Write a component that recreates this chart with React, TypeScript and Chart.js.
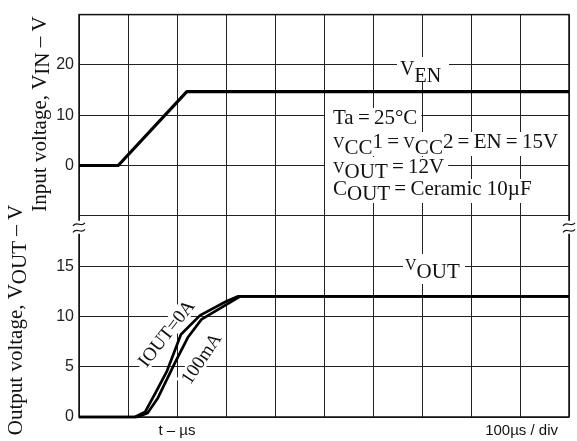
import { useEffect, useRef } from "react";
import { Chart, registerables } from "chart.js";

Chart.register(...registerables);

// ---- data (time in µs, voltage in V) ----
const venTime = [0, 80, 220, 1000];
const venVolt = [0, 0, 14.7, 14.7];

const vout0ATime = [0, 114, 135, 155, 179, 208, 247, 301, 325, 1000];
const vout0AVolt = [0, 0, 0.5, 2.3, 4.5, 8.2, 10.1, 11.5, 12, 12];

const vout100Time = [0, 119, 140, 161, 196, 222, 250, 305, 329, 1000];
const vout100Volt = [0, 0, 0.4, 1.9, 5.4, 7.9, 9.7, 11.3, 12, 12];

// axis settings
const outTicks = [0, 5, 10, 15];
const inTicks = [0, 10, 20];
const OUT_MIN = 0;
const OUT_MAX = 40;
const IN_MIN = -50;
const IN_MAX = 30;
const T_MAX = 1000;
const T_STEP = 100;

const SERIF = '"Liberation Serif", "Times New Roman", serif';
const SANS = '"Liberation Sans", Arial, sans-serif';
const EQ = "\u2009=\u2009";

type Seg = { t: string; s: number; dy?: number };

function measure(ctx: CanvasRenderingContext2D, segs: Seg[], family: string) {
  let w = 0;
  for (const g of segs) {
    ctx.font = `${g.s}px ${family}`;
    w += ctx.measureText(g.t).width;
  }
  return w;
}

function drawRich(
  ctx: CanvasRenderingContext2D,
  x: number,
  y: number,
  segs: Seg[],
  family: string,
  align: "left" | "center" | "right" = "left"
) {
  const w = measure(ctx, segs, family);
  let cx = align === "left" ? x : align === "center" ? x - w / 2 : x - w;
  ctx.textAlign = "left";
  ctx.textBaseline = "alphabetic";
  for (const g of segs) {
    ctx.font = `${g.s}px ${family}`;
    ctx.fillText(g.t, cx, y + (g.dy || 0));
    cx += ctx.measureText(g.t).width;
  }
  return w;
}

const condRows: { segs: Seg[]; y: number }[] = [
  { segs: [{ t: "Ta" + EQ + "25°C", s: 21 }], y: 124 },
  {
    segs: [
      { t: "V", s: 16 },
      { t: "CC", s: 21, dy: 6 },
      { t: "1" + EQ, s: 21 },
      { t: "V", s: 16 },
      { t: "CC", s: 21, dy: 6 },
      { t: "2" + EQ + "EN" + EQ + "15V", s: 21 },
    ],
    y: 148,
  },
  {
    segs: [
      { t: "V", s: 16 },
      { t: "OUT", s: 21, dy: 5 },
      { t: EQ + "12V", s: 21 },
    ],
    y: 173,
  },
  {
    segs: [
      { t: "C", s: 21 },
      { t: "OUT", s: 21, dy: 5 },
      { t: EQ + "Ceramic 10µF", s: 21 },
    ],
    y: 195,
  },
];

const venLabel: Seg[] = [
  { t: "V", s: 20 },
  { t: "EN", s: 20, dy: 7 },
];
const voutLabel: Seg[] = [
  { t: "V", s: 16 },
  { t: "OUT", s: 21, dy: 8 },
];
const inTitle: Seg[] = [
  { t: "Input voltage, V", s: 21 },
  { t: "IN", s: 21, dy: 3 },
  { t: " – V", s: 21 },
];
const outTitle: Seg[] = [
  { t: "Output voltage, V", s: 21 },
  { t: "OUT", s: 21, dy: 4 },
  { t: " – V", s: 21 },
];

function tilde(ctx: CanvasRenderingContext2D, cx: number, y: number) {
  ctx.beginPath();
  ctx.moveTo(cx - 6, y + 1.5);
  ctx.bezierCurveTo(cx - 2, y - 4, cx + 2, y + 4, cx + 6, y - 1.5);
  ctx.stroke();
}

const decor = {
  id: "decor",
  beforeDatasetsDraw(chart: any) {
    const ctx: CanvasRenderingContext2D = chart.ctx;
    const a = chart.chartArea;
    ctx.save();
    ctx.fillStyle = "#fff";
    // condition text backgrounds
    for (const r of condRows) {
      const w = measure(ctx, r.segs, SERIF);
      ctx.fillRect(325, r.y - 16, w + 12, 24);
    }
    // VEN / VOUT label backgrounds
    ctx.fillRect(397, 57, 52, 25);
    ctx.fillRect(403, 254, 62, 30);
    // curve label backgrounds (rotated)
    const rot = (cx: number, cy: number, ang: number, txt: string) => {
      ctx.save();
      ctx.translate(cx, cy);
      ctx.rotate(ang);
      ctx.font = `19px ${SERIF}`;
      const w = ctx.measureText(txt).width;
      ctx.fillRect(-w / 2 - 3, -10, w + 6, 18);
      ctx.restore();
    };
    rot(167, 334, (-52 * Math.PI) / 180, "IOUT=0A");
    rot(202, 359, (-56 * Math.PI) / 180, "100mA");

    // frame
    ctx.strokeStyle = "#111";
    ctx.lineWidth = 1.5;
    ctx.strokeRect(a.left, a.top, a.right - a.left, a.bottom - a.top);

    // axis break marks
    const yb = chart.scales.y.getPixelForValue(20) + 11;
    for (const cx of [a.left, a.right]) {
      ctx.fillStyle = "#fff";
      ctx.fillRect(cx - 7, yb - 6, 14, 13);
      ctx.strokeStyle = "#111";
      ctx.lineWidth = 1.2;
      tilde(ctx, cx, yb - 2.5);
      tilde(ctx, cx, yb + 4);
    }
    ctx.restore();
  },
  afterDatasetsDraw(chart: any) {
    const ctx: CanvasRenderingContext2D = chart.ctx;
    ctx.save();
    ctx.fillStyle = "#111";
    for (const r of condRows) drawRich(ctx, 333, r.y, r.segs, SERIF);
    drawRich(ctx, 400, 75, venLabel, SERIF);
    drawRich(ctx, 405, 270, voutLabel, SERIF);

    const rotText = (cx: number, cy: number, ang: number, txt: string) => {
      ctx.save();
      ctx.translate(cx, cy);
      ctx.rotate(ang);
      ctx.font = `19px ${SERIF}`;
      ctx.textAlign = "center";
      ctx.textBaseline = "middle";
      ctx.fillText(txt, 0, 0);
      ctx.restore();
    };
    rotText(167, 334, (-52 * Math.PI) / 180, "IOUT=0A");
    rotText(202, 359, (-56 * Math.PI) / 180, "100mA");

    // axis titles
    const vt = (bx: number, cy: number, segs: Seg[]) => {
      ctx.save();
      ctx.translate(bx, cy);
      ctx.rotate(-Math.PI / 2);
      drawRich(ctx, 0, 0, segs, SERIF, "center");
      ctx.restore();
    };
    vt(46, 114, inTitle);
    vt(22, 320, outTitle);

    // x labels
    ctx.font = `15px ${SANS}`;
    ctx.textBaseline = "middle";
    ctx.textAlign = "center";
    ctx.fillText("t – µs", chart.scales.x.getPixelForValue(200), 431);
    ctx.textAlign = "right";
    ctx.fillText("100µs / div", 558, 431);
    ctx.restore();
  },
};

function toPts(xs: number[], ys: number[]) {
  return xs.map((x, i) => ({ x, y: ys[i] }));
}

export default function App() {
  const ref = useRef<HTMLCanvasElement | null>(null);
  useEffect(() => {
    if (!ref.current) return;
    const common = {
      borderColor: "#000",
      pointRadius: 0,
      tension: 0,
      fill: false,
      clip: false as any,
      borderJoinStyle: "round" as const,
    };
    const chart = new Chart(ref.current, {
      type: "line",
      data: {
        datasets: [
          { ...common, label: "VEN", data: toPts(venTime, venVolt), yAxisID: "yIn", borderWidth: 3.2 },
          { ...common, label: "IOUT=0A", data: toPts(vout0ATime, vout0AVolt), yAxisID: "y", borderWidth: 2.7 },
          { ...common, label: "100mA", data: toPts(vout100Time, vout100Volt), yAxisID: "y", borderWidth: 2.7 },
        ],
      },
      options: {
        animation: false,
        responsive: true,
        maintainAspectRatio: false,
        layout: { padding: { top: 9, right: 8, left: 0, bottom: 0 } },
        plugins: { legend: { display: false }, tooltip: { enabled: false } },
        scales: {
          x: {
            type: "linear",
            min: 0,
            max: T_MAX,
            ticks: { display: false, stepSize: T_STEP },
            grid: { color: "#222", lineWidth: 1, drawTicks: false },
            border: { display: false },
            afterFit: (s: any) => {
              s.height = 24;
            },
          },
          y: {
            type: "linear",
            position: "left",
            min: OUT_MIN,
            max: OUT_MAX,
            ticks: {
              stepSize: 5,
              autoSkip: false,
              padding: 5,
              color: "#222",
              font: { family: SANS, size: 16 },
              callback: (v: any) => {
                const n = Number(v);
                if (outTicks.includes(n)) return String(n);
                const iv = IN_MIN + (n / OUT_MAX) * (IN_MAX - IN_MIN);
                if (n > 20 && inTicks.includes(iv)) return String(iv);
                return "";
              },
            },
            grid: { color: "#222", lineWidth: 1, drawTicks: false },
            border: { display: false },
            afterFit: (s: any) => {
              s.width = 79;
            },
          },
          yIn: { type: "linear", display: false, min: IN_MIN, max: IN_MAX },
        },
      } as any,
      plugins: [decor],
    });
    return () => chart.destroy();
  }, []);
  return (
    <div style={{ position: "fixed", left: 0, top: 0, width: 577, height: 441, background: "#fff" }}>
      <canvas ref={ref} />
    </div>
  );
}
